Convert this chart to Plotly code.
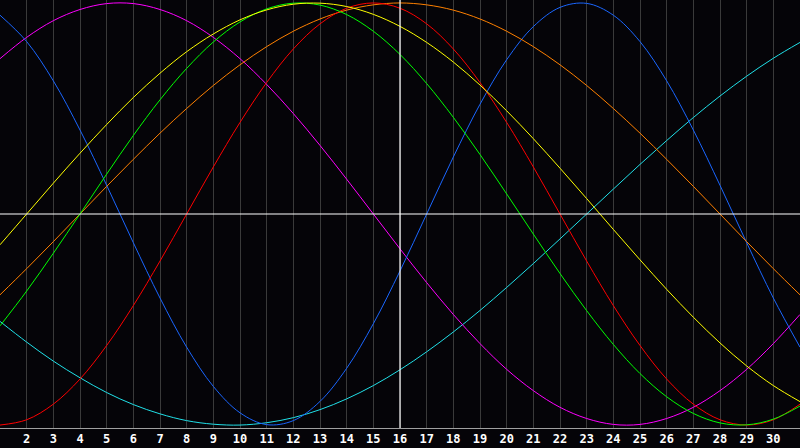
import plotly.graph_objects as go

# days of the month shown on the x axis
days = list(range(1, 32))
tick_days = list(range(2, 31))
today = 16

# cycle values, one per day (1..31)
physical = [0.942, 0.817, 0.631, 0.398, 0.136, -0.136, -0.398, -0.631, -0.817, -0.942, -0.998,
            -0.979, -0.888, -0.731, -0.520, -0.270, 0.000, 0.270, 0.520, 0.731, 0.888, 0.979,
            0.998, 0.942, 0.817, 0.631, 0.398, 0.136, -0.136, -0.398, -0.631]
emotional = [-1.000, -0.975, -0.901, -0.782, -0.623, -0.434, -0.223, 0.000, 0.223, 0.434, 0.623,
             0.782, 0.901, 0.975, 1.000, 0.975, 0.901, 0.782, 0.623, 0.434, 0.223, 0.000,
             -0.223, -0.434, -0.623, -0.782, -0.901, -0.975, -1.000, -0.975, -0.901]
intellectual = [-0.530, -0.365, -0.186, 0.000, 0.189, 0.372, 0.541, 0.690, 0.815, 0.910, 0.972,
                0.999, 0.990, 0.945, 0.866, 0.756, 0.618, 0.458, 0.282, 0.095, -0.095, -0.282,
                -0.458, -0.618, -0.756, -0.866, -0.945, -0.990, -0.999, -0.972, -0.910]
intuitive = [0.736, 0.837, 0.916, 0.969, 0.997, 0.997, 0.969, 0.916, 0.837, 0.736, 0.614,
             0.476, 0.325, 0.165, 0.000, -0.165, -0.325, -0.476, -0.614, -0.736, -0.837, -0.916,
             -0.969, -0.997, -0.997, -0.969, -0.916, -0.837, -0.736, -0.614, -0.476]
aesthetic = [-0.146, 0.000, 0.146, 0.288, 0.424, 0.552, 0.667, 0.769, 0.853, 0.920, 0.967,
             0.994, 0.999, 0.983, 0.946, 0.889, 0.813, 0.720, 0.611, 0.489, 0.357, 0.217,
             0.073, -0.073, -0.217, -0.357, -0.489, -0.611, -0.720, -0.813, -0.889]
awareness = [-0.383, -0.259, -0.131, 0.000, 0.131, 0.259, 0.383, 0.500, 0.609, 0.707, 0.793,
             0.866, 0.924, 0.966, 0.991, 1.000, 0.991, 0.966, 0.924, 0.866, 0.793, 0.707,
             0.609, 0.500, 0.383, 0.259, 0.131, 0.000, -0.131, -0.259, -0.383]
spiritual = [-0.509, -0.607, -0.697, -0.776, -0.846, -0.903, -0.947, -0.979, -0.996, -1.000, -0.989,
             -0.965, -0.927, -0.876, -0.813, -0.738, -0.653, -0.559, -0.457, -0.348, -0.235, -0.118,
             0.000, 0.118, 0.235, 0.348, 0.457, 0.559, 0.653, 0.738, 0.813]

series = [
    ("Spiritual", spiritual, "#20e0e8"),
    ("Intuitive", intuitive, "#ff00ff"),
    ("Physical", physical, "#1a66ff"),
    ("Awareness", awareness, "#ff8000"),
    ("Emotional", emotional, "#ff0000"),
    ("Intellectual", intellectual, "#00ff00"),
    ("Aesthetic", aesthetic, "#ffff00"),
]

fig = go.Figure()

for name, vals, col in series:
    fig.add_trace(go.Scatter(x=days, y=vals, mode="lines", name=name,
                             line=dict(color=col, width=1, shape="spline", smoothing=1.0),
                             hoverinfo="skip"))

# today marker and zero line
fig.add_vline(x=today, line=dict(color="white", width=1.2), layer="above")
fig.add_hline(y=0, line=dict(color="white", width=1.2), layer="above")

fig.update_xaxes(range=[1, 31], tickvals=tick_days, ticktext=[str(d) for d in tick_days],
                 showgrid=True, gridcolor="#3a3a3a", gridwidth=1, zeroline=False,
                 showline=True, linecolor="#a0a0a0", linewidth=1, mirror=True,
                 ticks="", tickfont=dict(family="DejaVu Sans Mono", size=12, color="white",
                                         weight="bold"))
fig.update_yaxes(range=[-1.014, 1.014], showgrid=False, zeroline=False,
                 showticklabels=False, showline=True, linecolor="#a0a0a0",
                 linewidth=1, mirror=True)

fig.update_layout(width=800, height=448, margin=dict(l=0, r=0, t=0, b=20),
                  paper_bgcolor="#050408", plot_bgcolor="#050408",
                  showlegend=False, hovermode=False)

# page body has a default margin; drop it so the chart fills the window
fig.write_html("out.html", config={"displayModeBar": False},
               post_script="document.body.style.margin='0';")
